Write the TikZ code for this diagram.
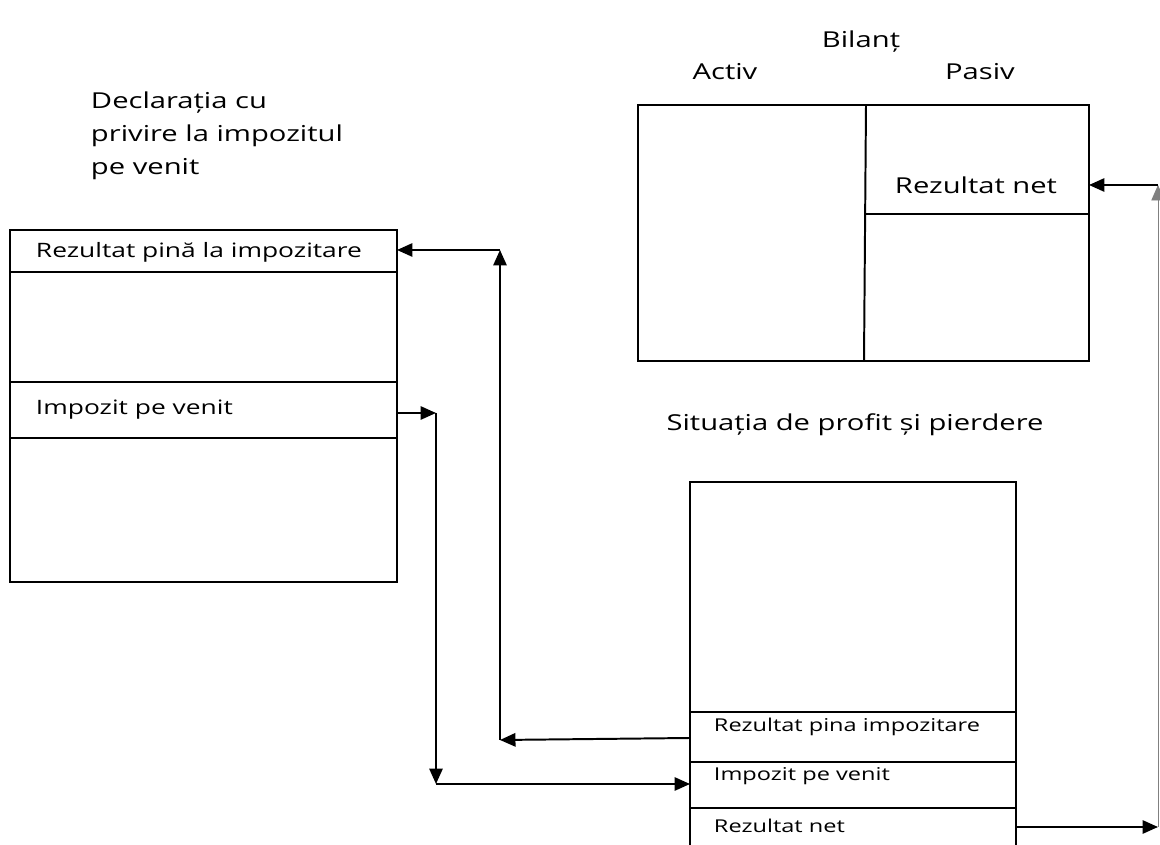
\documentclass[tikz,border=0pt]{standalone}
\usepackage{fontspec}
\setmainfont{Open Sans}[FakeStretch=1.33]
\usetikzlibrary{arrows.meta}
\begin{document}
\begin{tikzpicture}[x=0.025cm,y=-0.025cm,line width=1.4pt,
    arr/.style={-{Triangle[length=11pt,width=9.5pt]}},
    ttl/.style={font=\fontsize{15.6}{23.5}\selectfont,inner sep=0pt},
    txt/.style={font=\fontsize{14.1}{16}\selectfont,anchor=west,inner sep=0pt},
    small/.style={font=\fontsize{12.6}{15}\selectfont,anchor=west,inner sep=0pt}]
  \useasboundingbox (0,0) rectangle (1160,845);

  % declaratia
  \node[ttl,align=left,anchor=north west] (dTitle) at (90,91)
    {Declarația cu\\privire la impozitul\\pe venit};
  \draw (10,230) rectangle (397,582);
  \foreach \y in {272, 382, 438} {
    \draw (10,\y) -- (397,\y);
  }
  \node[txt] (dRezImp) at (35,252) {Rezultat pină la impozitare};
  \node[txt] (dImp) at (35,410) {Impozit pe venit};

  % bilant
  \node[ttl] (bTitle) at (861,42) {Bilanț};
  \node[ttl] (bActiv) at (725,72) {Activ};
  \node[ttl] (bPasiv) at (980,72) {Pasiv};
  \draw (638,105) rectangle (1089,361);
  \draw (866,105) -- (864,361);
  \draw (866,214) -- (1089,214);
  \node[font=\fontsize{15.6}{17}\selectfont,inner sep=0pt] (bRezNet) at (976,185) {Rezultat net};

  % situatia de profit si pierdere
  \node[ttl] (pTitle) at (855,425) {Situația de profit și pierdere};
  \draw (690,848) -- (690,482) -- (1016,482) -- (1016,848);
  \foreach \y in {712, 762, 808} {
    \draw (690,\y) -- (1016,\y);
  }
  \node[small] (pRezImp) at (713,727) {Rezultat pina impozitare};
  \node[small] (pImp) at (713,776) {Impozit pe venit};
  \node[small] (pRezNet) at (713,826) {Rezultat net};

  % puncte de legatura
  \coordinate (dRezE) at (397,250);
  \coordinate (dImpE) at (397,413);
  \coordinate (bRezE) at (1089,185);
  \coordinate (pRezImpW) at (690,738);
  \coordinate (pImpW) at (690,784);
  \coordinate (pRezNetE) at (1016,827);
  \coordinate (c1) at (500,740);
  \coordinate (c2) at (500,250);
  \coordinate (c3) at (436,413);
  \coordinate (c4) at (436,784);
  \coordinate (c5) at (1158,827);
  \coordinate (c6) at (1158,185);

  \draw[arr] (pRezImpW) -- (c1);
  \draw[arr] (c1) -- (c2);
  \draw[arr] (c2) -- (dRezE);
  \draw[arr] (dImpE) -- (c3);
  \draw[arr] (c3) -- (c4);
  \draw[arr] (c4) -- (pImpW);
  \draw[arr] (pRezNetE) -- (c5);
  \draw[arr,line width=0.6pt,draw=gray] (c5) -- (c6);
  \draw[arr] (c6) -- (bRezE);
\end{tikzpicture}
\end{document}
